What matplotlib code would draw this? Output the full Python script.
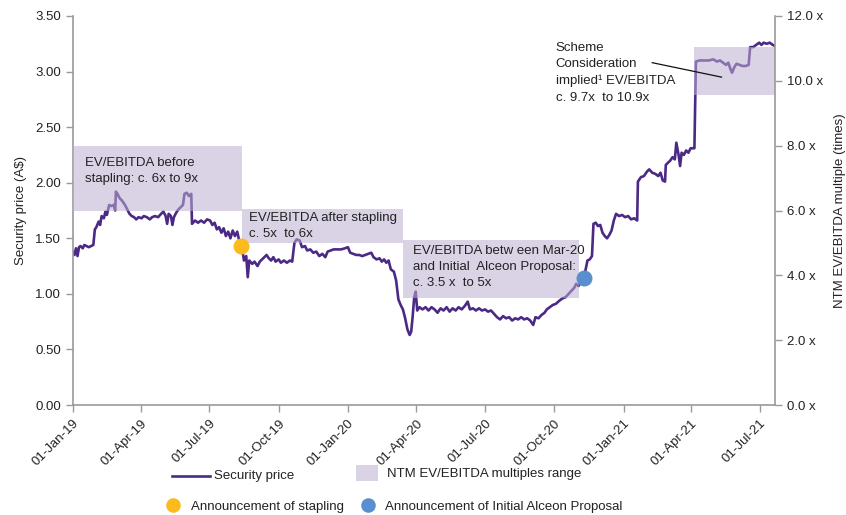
import matplotlib
matplotlib.use("Agg")
import matplotlib.pyplot as plt
import matplotlib.dates as mdates
import numpy as np
import pandas as pd
from matplotlib.patches import Rectangle
from matplotlib.lines import Line2D

plt.rcParams['font.family'] = ['Liberation Sans', 'DejaVu Sans']

# ---------------- data ----------------
price_dates = [
 "2019-01-01","2019-01-03","2019-01-05","2019-01-07","2019-01-09","2019-01-11","2019-01-14","2019-01-16",
 "2019-01-19","2019-01-22","2019-01-25","2019-01-28","2019-01-30","2019-02-01","2019-02-04","2019-02-06",
 "2019-02-08","2019-02-11","2019-02-13","2019-02-15","2019-02-18","2019-02-21","2019-02-24","2019-02-26",
 "2019-02-27","2019-03-01","2019-03-04","2019-03-07","2019-03-11","2019-03-14","2019-03-17","2019-03-20",
 "2019-03-23","2019-03-26","2019-03-29","2019-04-02","2019-04-05","2019-04-09","2019-04-13","2019-04-16",
 "2019-04-20","2019-04-24","2019-04-28","2019-05-01","2019-05-04","2019-05-06","2019-05-08","2019-05-11",
 "2019-05-13","2019-05-15","2019-05-18","2019-05-21","2019-05-24","2019-05-27","2019-05-29","2019-06-01",
 "2019-06-04","2019-06-07","2019-06-08","2019-06-12","2019-06-16","2019-06-20","2019-06-24","2019-06-28",
 "2019-07-02","2019-07-05","2019-07-08","2019-07-11","2019-07-14","2019-07-17","2019-07-20","2019-07-23",
 "2019-07-26","2019-07-29","2019-08-01","2019-08-04","2019-08-07","2019-08-10","2019-08-13","2019-08-16",
 "2019-08-19","2019-08-21","2019-08-23","2019-08-27","2019-08-30","2019-09-03","2019-09-06","2019-09-09",
 "2019-09-12","2019-09-15","2019-09-18","2019-09-21","2019-09-24","2019-09-27","2019-10-01","2019-10-04",
 "2019-10-08","2019-10-12","2019-10-16","2019-10-19","2019-10-22","2019-10-25","2019-10-29","2019-11-01",
 "2019-11-05","2019-11-08","2019-11-12","2019-11-16","2019-11-20","2019-11-24","2019-11-28","2019-12-02",
 "2019-12-05","2019-12-09","2019-12-13","2019-12-18","2019-12-23","2019-12-28","2020-01-01","2020-01-04",
 "2020-01-08","2020-01-12","2020-01-16","2020-01-20","2020-01-24","2020-01-28","2020-02-01","2020-02-04",
 "2020-02-08","2020-02-12","2020-02-15","2020-02-18","2020-02-21","2020-02-24","2020-02-27","2020-03-02",
 "2020-03-05","2020-03-08","2020-03-11","2020-03-14","2020-03-17","2020-03-20","2020-03-23","2020-03-25",
 "2020-03-27","2020-03-29","2020-03-31","2020-04-02","2020-04-05","2020-04-09","2020-04-13","2020-04-17",
 "2020-04-21","2020-04-25","2020-04-29","2020-05-03","2020-05-07","2020-05-11","2020-05-15","2020-05-19",
 "2020-05-23","2020-05-27","2020-05-31","2020-06-04","2020-06-08","2020-06-11","2020-06-15","2020-06-19",
 "2020-06-23","2020-06-27","2020-07-01","2020-07-05","2020-07-09","2020-07-13","2020-07-17","2020-07-21",
 "2020-07-25","2020-07-29","2020-08-02","2020-08-06","2020-08-10","2020-08-14","2020-08-18","2020-08-22",
 "2020-08-26","2020-08-30","2020-09-03","2020-09-06","2020-09-10","2020-09-14","2020-09-18","2020-09-21",
 "2020-09-25","2020-09-29","2020-10-03","2020-10-08","2020-10-12","2020-10-16","2020-10-20","2020-10-24",
 "2020-10-27","2020-10-30","2020-11-02","2020-11-05","2020-11-08","2020-11-11","2020-11-14","2020-11-17",
 "2020-11-20","2020-11-22","2020-11-25","2020-11-28","2020-12-01","2020-12-04","2020-12-07","2020-12-10",
 "2020-12-13","2020-12-16","2020-12-19","2020-12-22","2020-12-26","2020-12-30","2021-01-03","2021-01-07",
 "2021-01-11","2021-01-15","2021-01-19","2021-01-20","2021-01-24","2021-01-28","2021-02-01","2021-02-04",
 "2021-02-08","2021-02-12","2021-02-16","2021-02-19","2021-02-22","2021-02-25","2021-02-26","2021-03-01",
 "2021-03-04","2021-03-07","2021-03-10","2021-03-12","2021-03-15","2021-03-17","2021-03-19","2021-03-22",
 "2021-03-25","2021-03-28","2021-03-31","2021-04-05","2021-04-07","2021-04-12","2021-04-18","2021-04-24",
 "2021-04-30","2021-05-05","2021-05-09","2021-05-13","2021-05-17","2021-05-20","2021-05-23","2021-05-25",
 "2021-05-28","2021-05-31","2021-06-04","2021-06-08","2021-06-12","2021-06-16","2021-06-18","2021-06-22",
 "2021-06-26","2021-06-30","2021-07-03","2021-07-06","2021-07-10","2021-07-14","2021-07-18","2021-07-21",
]
price_values = [
 1.38,1.35,1.41,1.34,1.42,1.43,1.41,1.44,
 1.43,1.42,1.43,1.44,1.58,1.60,1.65,1.62,
 1.70,1.68,1.74,1.71,1.80,1.79,1.80,1.75,
 1.92,1.90,1.86,1.84,1.80,1.76,1.72,1.70,
 1.69,1.67,1.69,1.68,1.70,1.69,1.67,1.69,
 1.70,1.69,1.72,1.74,1.70,1.63,1.72,1.70,
 1.62,1.69,1.73,1.76,1.78,1.80,1.90,1.91,
 1.88,1.90,1.63,1.66,1.64,1.66,1.64,1.67,
 1.66,1.62,1.64,1.58,1.60,1.55,1.59,1.52,
 1.56,1.50,1.57,1.52,1.56,1.47,1.43,1.30,
 1.34,1.15,1.30,1.27,1.29,1.25,1.29,1.31,
 1.33,1.35,1.32,1.30,1.33,1.29,1.31,1.28,
 1.30,1.28,1.30,1.29,1.46,1.49,1.48,1.42,
 1.43,1.39,1.40,1.37,1.38,1.34,1.36,1.33,
 1.38,1.39,1.40,1.40,1.40,1.41,1.42,1.37,
 1.36,1.35,1.35,1.34,1.35,1.36,1.37,1.33,
 1.31,1.32,1.29,1.31,1.28,1.30,1.22,1.20,
 1.12,0.95,0.90,0.86,0.78,0.68,0.63,0.66,
 0.80,0.97,1.02,0.85,0.88,0.86,0.88,0.85,
 0.88,0.86,0.83,0.87,0.85,0.88,0.84,0.87,
 0.85,0.88,0.86,0.89,0.93,0.86,0.87,0.85,
 0.87,0.85,0.86,0.84,0.85,0.82,0.79,0.77,
 0.80,0.78,0.79,0.76,0.78,0.77,0.79,0.77,
 0.78,0.76,0.72,0.79,0.78,0.81,0.83,0.86,
 0.88,0.90,0.91,0.94,0.96,0.97,1.00,1.03,
 1.05,1.09,1.07,1.10,1.12,1.20,1.30,1.31,
 1.34,1.63,1.64,1.61,1.62,1.55,1.52,1.50,
 1.53,1.57,1.66,1.72,1.70,1.71,1.69,1.70,
 1.67,1.68,1.66,2.01,2.05,2.06,2.10,2.12,
 2.09,2.08,2.06,2.09,2.02,2.01,2.16,2.18,
 2.20,2.23,2.21,2.36,2.25,2.15,2.27,2.25,
 2.29,2.27,2.31,2.31,3.09,3.10,3.10,3.10,
 3.11,3.09,3.10,3.08,3.06,3.08,3.02,2.99,
 3.04,3.07,3.06,3.05,3.05,3.06,3.22,3.22,
 3.24,3.26,3.24,3.26,3.25,3.26,3.24,3.23,
]

# NTM EV/EBITDA multiple ranges (right axis, times)
range_starts = ["2019-01-01", "2019-08-13", "2020-03-14", "2021-04-05"]
range_ends   = ["2019-08-13", "2020-03-14", "2020-11-03", "2021-07-21"]
range_low    = [6.0, 5.0, 3.3, 9.55]
range_high   = [8.0, 6.05, 5.1, 11.05]
range_labels = ["EV/EBITDA before\nstapling: c. 6x to 9x",
                "EV/EBITDA after stapling\nc. 5x  to 6x",
                "EV/EBITDA betw een Mar-20\nand Initial  Alceon Proposal:\nc. 3.5 x  to 5x",
                "Scheme\nConsideration\nimplied\u00b9 EV/EBITDA\nc. 9.7x  to 10.9x"]
label_dates  = ["2019-01-17", "2019-08-23", "2020-03-27", "2020-10-03"]
label_prices = [2.23, 1.74, 1.44, 3.265]

event_names  = ["Announcement of stapling", "Announcement of Initial Alceon Proposal"]
event_dates  = ["2019-08-12", "2020-11-10"]
event_prices = [1.43, 1.14]

price_ticks    = [0.0, 0.5, 1.0, 1.5, 2.0, 2.5, 3.0, 3.5]
multiple_ticks = [0.0, 2.0, 4.0, 6.0, 8.0, 10.0, 12.0]
date_ticks     = ["2019-01-01","2019-04-01","2019-07-01","2019-10-01","2020-01-01","2020-04-01",
                  "2020-07-01","2020-10-01","2021-01-01","2021-04-01","2021-07-01"]

# ---------------- style ----------------
LINE_C = "#4b2a85"
BOX_C = "#bcaed0"
BOX_A = 0.55
YEL = "#fbbb1c"
BLU = "#5a8fcf"
SPINE_C = "#9a9a9a"
TXT_C = "#222222"
FS = 9.5

W, H = 846, 515
fig = plt.figure(figsize=(W/100, H/100), dpi=100)
ax = fig.add_axes([73/W, 1-405/H, (775-73)/W, (405-16)/H])
ax2 = ax.twinx()

pmax, mmax = 3.5, 12.0
conv = pmax / mmax  # multiple -> price units

dts = pd.to_datetime(price_dates)
ax.plot(dts, price_values, color=LINE_C, lw=1.9, zorder=2, solid_joinstyle='round')

for s, e, lo, hi in zip(range_starts, range_ends, range_low, range_high):
    x0 = mdates.date2num(pd.Timestamp(s))
    x1 = mdates.date2num(pd.Timestamp(e))
    ax.add_patch(Rectangle((x0, lo*conv), x1-x0, (hi-lo)*conv, facecolor=BOX_C,
                           alpha=BOX_A, edgecolor='none', zorder=3))

for d, p, c in zip(event_dates, event_prices, [YEL, BLU]):
    ax.plot(pd.Timestamp(d), p, 'o', color=c, ms=11.5, mec='none', zorder=5)

for d, y, t in zip(label_dates, label_prices, range_labels):
    ax.text(pd.Timestamp(d), y, t, fontsize=FS, color=TXT_C, va='top', ha='left',
            linespacing=1.47, zorder=6)

# leader line for scheme consideration
ax.plot([pd.Timestamp("2021-02-08"), pd.Timestamp("2021-05-11")], [3.08, 2.95],
        color="#111111", lw=0.9, zorder=6)

ax.set_xlim(pd.Timestamp("2019-01-01"), pd.Timestamp("2021-07-21"))
ax.set_ylim(0, pmax)
ax2.set_ylim(0, mmax)
ax.set_yticks(price_ticks)
ax.set_yticklabels([f"{v:.2f}" for v in price_ticks])
ax2.set_yticks(multiple_ticks)
ax2.set_yticklabels([f"{v:.1f} x" for v in multiple_ticks])
ax.set_xticks(pd.to_datetime(date_ticks))
ax.xaxis.set_major_formatter(mdates.DateFormatter("%d-%b-%y"))
for lab in ax.get_xticklabels():
    lab.set_rotation(45)
    lab.set_ha('right')
    lab.set_rotation_mode('anchor')

for a in (ax, ax2):
    a.spines['top'].set_visible(False)
    for sp in ('left', 'right', 'bottom'):
        a.spines[sp].set_color(SPINE_C)
        a.spines[sp].set_linewidth(1.2)
    a.tick_params(colors=SPINE_C, labelcolor=TXT_C, labelsize=FS, length=5, width=1.0)
ax.spines['right'].set_visible(False)
ax2.spines['left'].set_visible(False)
ax2.spines['bottom'].set_visible(False)
ax.tick_params(axis='x', pad=4)

ax.set_ylabel("Security price (A$)", fontsize=FS, color=TXT_C, labelpad=6)
ax2.set_ylabel("NTM EV/EBITDA multiple (times)", fontsize=FS, color=TXT_C, labelpad=8)

# ---------------- legend (manual, pixel layout) ----------------
lg = fig.add_axes([0, 0, 1, 1])
lg.set_xlim(0, W)
lg.set_ylim(H, 0)
lg.axis('off')
lg.add_line(Line2D([172, 210], [476, 476], color=LINE_C, lw=1.9))
lg.text(214, 476, "Security price", fontsize=FS, color=TXT_C, va='center', ha='left')
lg.add_patch(Rectangle((356, 465), 22, 16, facecolor=BOX_C, alpha=BOX_A, edgecolor='none'))
lg.text(387, 474, "NTM EV/EBITDA multiples range", fontsize=FS, color=TXT_C, va='center', ha='left')
lg.plot([173], [505], 'o', color=YEL, ms=10.5, mec='none')
lg.text(191, 507, event_names[0], fontsize=FS, color=TXT_C, va='center', ha='left')
lg.plot([368], [505], 'o', color=BLU, ms=10.5, mec='none')
lg.text(385, 507, event_names[1], fontsize=FS, color=TXT_C, va='center', ha='left')

fig.savefig("out.png", dpi=100)
